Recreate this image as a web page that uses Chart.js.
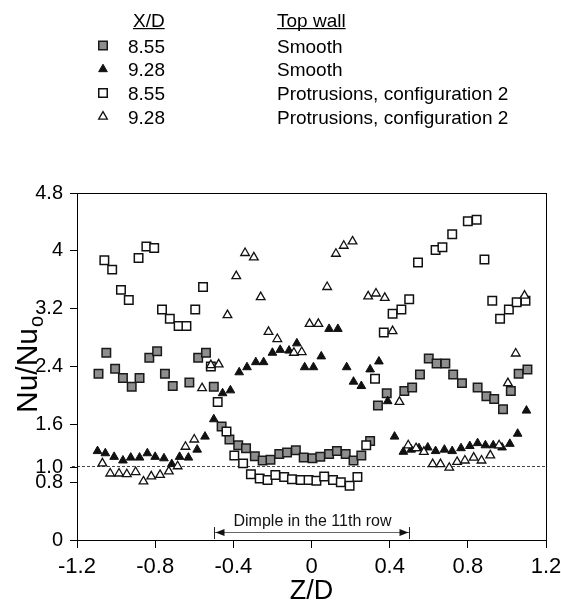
<!DOCTYPE html>
<html>
<head>
<meta charset="utf-8">
<script src="https://cdn.jsdelivr.net/npm/chart.js@4.4.1/dist/chart.umd.min.js"></script>
<style>
  html, body { margin: 0; padding: 0; background: #fff; }
  #wrap { width: 561px; height: 605px; }
</style>
</head>
<body>
<div id="wrap"><canvas id="nu" width="561" height="605"></canvas></div>
<script>
// X/D = 8.55, smooth top wall (grey squares)
const SMOOTH_855_Z = [
    -1.09, -1.05, -1.005, -0.965, -0.92, -0.88, -0.83, -0.79, -0.75, -0.71,
    -0.625, -0.58, -0.54, -0.50, -0.46, -0.42, -0.375, -0.335, -0.29, -0.25,
    -0.21, -0.165, -0.125, -0.08, -0.04, 0.005, 0.045, 0.09, 0.13, 0.175,
    0.215, 0.255, 0.30, 0.34, 0.385, 0.475, 0.515, 0.555, 0.60, 0.64,
    0.685, 0.725, 0.77, 0.85, 0.895, 0.935, 0.98, 1.02, 1.06, 1.105
];
const SMOOTH_855_NU = [
    2.30, 2.59, 2.37, 2.24, 2.12, 2.24, 2.52, 2.61, 2.30, 2.13,
    2.18, 2.52, 2.59, 2.12, 1.57, 1.39, 1.31, 1.27, 1.16, 1.10,
    1.11, 1.19, 1.21, 1.24, 1.14, 1.13, 1.15, 1.19, 1.23, 1.19,
    1.10, 1.17, 1.37, 1.86, 2.03, 2.06, 2.11, 2.29, 2.51, 2.44,
    2.44, 2.29, 2.17, 2.11, 1.99, 1.95, 1.81, 2.06, 2.30, 2.36
];

// X/D = 9.28, smooth top wall (black triangles)
const SMOOTH_928_Z = [
    -1.095, -1.055, -1.01, -0.965, -0.925, -0.88, -0.84, -0.80, -0.755, -0.715,
    -0.675, -0.63, -0.585, -0.545, -0.50, -0.455, -0.415, -0.37, -0.33, -0.285,
    -0.245, -0.20, -0.16, -0.115, -0.075, -0.035, 0.01, 0.05, 0.09, 0.135,
    0.18, 0.215, 0.255, 0.30, 0.345, 0.39, 0.425, 0.47, 0.51, 0.55,
    0.595, 0.635, 0.68, 0.72, 0.765, 0.81, 0.85, 0.89, 0.93, 0.975,
    1.015, 1.055, 1.10
];
const SMOOTH_928_NU = [
    1.23, 1.20, 1.15, 1.10, 1.14, 1.14, 1.20, 1.15, 1.13, 1.05,
    1.15, 1.14, 1.25, 1.43, 1.67, 2.03, 2.07, 2.32, 2.39, 2.46,
    2.46, 2.59, 2.63, 2.62, 2.72, 2.39, 2.39, 2.54, 2.92, 2.92,
    2.39, 2.19, 2.13, 2.36, 2.47, 1.92, 1.43, 1.22, 1.25, 1.27,
    1.28, 1.23, 1.25, 1.23, 1.27, 1.30, 1.34, 1.31, 1.31, 1.28,
    1.33, 1.47, 1.79
];

// X/D = 8.55, protrusions config 2 (open squares)
const PROT_855_Z = [
    -1.06, -1.02, -0.975, -0.935, -0.885, -0.845, -0.805, -0.765, -0.725, -0.68,
    -0.64, -0.595, -0.555, -0.515, -0.48, -0.435, -0.395, -0.35, -0.31, -0.265,
    -0.225, -0.185, -0.14, -0.10, -0.055, -0.015, 0.025, 0.065, 0.11, 0.15,
    0.195, 0.235, 0.28, 0.325, 0.37, 0.415, 0.46, 0.50, 0.545, 0.635,
    0.67, 0.72, 0.80, 0.845, 0.885, 0.925, 0.965, 1.01, 1.05, 1.095
];
const PROT_855_NU = [
    3.87, 3.74, 3.46, 3.32, 3.90, 4.06, 4.04, 3.19, 3.06, 2.96,
    2.96, 3.19, 3.50, 2.40, 1.91, 1.50, 1.17, 1.06, 0.91, 0.85,
    0.83, 0.90, 0.87, 0.84, 0.83, 0.83, 0.82, 0.88, 0.83, 0.80,
    0.75, 0.87, 1.31, 2.23, 2.87, 3.13, 3.19, 3.33, 3.84, 4.01,
    4.05, 4.23, 4.41, 4.43, 3.88, 3.31, 3.06, 3.19, 3.29, 3.31
];

// X/D = 9.28, protrusions config 2 (open triangles)
const PROT_928_Z = [
    -1.07, -1.03, -0.985, -0.945, -0.90, -0.86, -0.82, -0.775, -0.73, -0.685,
    -0.645, -0.60, -0.56, -0.515, -0.475, -0.43, -0.385, -0.34, -0.295, -0.26,
    -0.22, -0.175, -0.09, -0.05, -0.01, 0.035, 0.08, 0.125, 0.165, 0.21,
    0.29, 0.33, 0.375, 0.415, 0.45, 0.495, 0.535, 0.575, 0.62, 0.66,
    0.705, 0.745, 0.785, 0.83, 0.87, 0.915, 0.96, 1.005, 1.045, 1.09
];
const PROT_928_NU = [
    1.06, 0.92, 0.92, 0.91, 0.94, 0.81, 0.88, 0.90, 0.95, 1.02,
    1.29, 1.39, 2.10, 2.42, 2.43, 3.11, 3.65, 3.97, 3.91, 3.36,
    2.88, 2.78, 2.59, 2.60, 2.99, 2.99, 3.50, 3.96, 4.07, 4.13,
    3.37, 3.41, 3.35, 2.89, 1.91, 1.31, 1.27, 1.22, 1.05, 1.05,
    1.00, 1.08, 1.10, 1.14, 1.10, 1.17, 1.31, 2.17, 2.58, 3.38
];

// axes
const X_TICKS = [-1.2, -0.8, -0.4, 0, 0.4, 0.8, 1.2];
const X_TICK_LABELS = ['-1.2', '-0.8', '-0.4', '0', '0.4', '0.8', '1.2'];
const Y_TICKS = [0, 0.8, 1.0, 1.6, 2.4, 3.2, 4, 4.8];
const Y_TICK_LABELS = ['0', '0.8', '1.0', '1.6', '2.4', '3.2', '4', '4.8'];

// legend rows: X/D, top wall
const LEGEND_XD = ['8.55', '9.28', '8.55', '9.28'];
const LEGEND_WALL = ['Smooth', 'Smooth', 'Protrusions, configuration 2', 'Protrusions, configuration 2'];

const FONT = '"Liberation Sans", Arial, Helvetica, sans-serif';
const GREY = '#8e8e8e';

const pairs = (zs, nus) => zs.map((z, i) => ({ x: z, y: nus[i] }));

// box, Nu/Nu0 = 1 reference line, dimple arrow
const plotDecor = {
    id: 'plotDecor',
    beforeDatasetsDraw(chart) {
        const { ctx, chartArea: a, scales: { x, y } } = chart;
        const yy = Math.round(y.getPixelForValue(1.0)) - 1.5;
        ctx.save();
        ctx.strokeStyle = '#444';
        ctx.lineWidth = 1;
        ctx.setLineDash([3, 2]);
        ctx.beginPath();
        ctx.moveTo(a.left - 5, yy);
        ctx.lineTo(a.right, yy);
        ctx.stroke();
        ctx.restore();
    },
    afterDatasetsDraw(chart) {
        const { ctx, chartArea: a, scales: { x, y } } = chart;
        ctx.save();
        ctx.strokeStyle = '#000';
        ctx.lineWidth = 1;
        ctx.strokeRect(Math.round(a.left) + 0.5, Math.round(a.top) + 0.5,
            Math.round(a.right - a.left), Math.round(a.bottom - a.top));

        // dimple in the 11th row, Z/D -0.5 .. 0.5
        const x0 = Math.round(x.getPixelForValue(-0.5)) + 0.5;
        const x1 = Math.round(x.getPixelForValue(0.5)) + 0.5;
        const ly = Math.round(a.bottom) - 7.5;
        ctx.strokeStyle = '#666';
        ctx.beginPath();
        ctx.moveTo(x0, ly); ctx.lineTo(x1, ly);
        ctx.stroke();
        ctx.strokeStyle = '#222';
        ctx.beginPath();
        ctx.moveTo(x0, a.bottom - 13); ctx.lineTo(x0, a.bottom - 1);
        ctx.moveTo(x1, a.bottom - 13); ctx.lineTo(x1, a.bottom - 1);
        ctx.stroke();
        ctx.fillStyle = '#111';
        ctx.beginPath();
        ctx.moveTo(x0 + 1, ly); ctx.lineTo(x0 + 10, ly - 3.5); ctx.lineTo(x0 + 10, ly + 3.5);
        ctx.closePath(); ctx.fill();
        ctx.beginPath();
        ctx.moveTo(x1 - 1, ly); ctx.lineTo(x1 - 10, ly - 3.5); ctx.lineTo(x1 - 10, ly + 3.5);
        ctx.closePath(); ctx.fill();

        ctx.font = '16px ' + FONT;
        ctx.textAlign = 'center';
        ctx.textBaseline = 'alphabetic';
        ctx.fillText('Dimple in the 11th row', x.getPixelForValue(0) + 1, a.bottom - 14);
        ctx.restore();
    }
};

// Nu/Nu_o title and the table legend
const titleAndLegend = {
    id: 'titleAndLegend',
    afterDraw(chart) {
        const { ctx } = chart;
        ctx.save();
        ctx.fillStyle = '#000';

        // y title, rotated, subscript o
        ctx.translate(37, 413);
        ctx.rotate(-Math.PI / 2);
        ctx.textAlign = 'left';
        ctx.textBaseline = 'alphabetic';
        ctx.font = '30px ' + FONT;
        const main = 'Nu/Nu';
        ctx.fillText(main, 0, 0);
        const w = ctx.measureText(main).width;
        ctx.font = '20px ' + FONT;
        ctx.fillText('o', w + 1, 6);
        ctx.setTransform(1, 0, 0, 1, 0, 0);

        // legend
        ctx.font = '19px ' + FONT;
        ctx.textAlign = 'left';
        ctx.fillText('X/D', 133, 27);
        ctx.fillText('Top wall', 277, 27);
        ctx.fillRect(133, 28, ctx.measureText('X/D').width, 1.2);
        ctx.fillRect(277, 28, ctx.measureText('Top wall').width, 1.2);
        const metas = chart.getSortedVisibleDatasetMetas().slice().sort((p, q) => p.index - q.index);
        metas.forEach((meta, i) => {
            const ds = chart.data.datasets[meta.index];
            const base = 52.5 + i * 23.7;
            ctx.fillStyle = '#000';
            ctx.fillText(LEGEND_XD[i], 128, base);
            ctx.fillText(LEGEND_WALL[i], 277, base);
            ctx.fillStyle = ds.backgroundColor;
            ctx.strokeStyle = ds.borderColor;
            ctx.lineWidth = ds.borderWidth;
            Chart.helpers.drawPoint(ctx, {
                pointStyle: ds.pointStyle, radius: ds.pointRadius,
                borderWidth: ds.borderWidth, rotation: 0
            }, 103, base - 7);
        });
        ctx.restore();
    }
};

window.onload = () => {
    new Chart(document.getElementById('nu'), {
        type: 'scatter',
        data: {
            datasets: [
                {
                    label: '8.55 Smooth',
                    data: pairs(SMOOTH_855_Z, SMOOTH_855_NU),
                    pointStyle: 'rect', pointRadius: 6,
                    backgroundColor: GREY, borderColor: '#1a1a1a', borderWidth: 1.5,
                    order: 4
                },
                {
                    label: '9.28 Smooth',
                    data: pairs(SMOOTH_928_Z, SMOOTH_928_NU),
                    pointStyle: 'triangle', pointRadius: 5,
                    backgroundColor: '#111', borderColor: '#111', borderWidth: 1,
                    order: 3
                },
                {
                    label: '8.55 Protrusions, configuration 2',
                    data: pairs(PROT_855_Z, PROT_855_NU),
                    pointStyle: 'rect', pointRadius: 6,
                    backgroundColor: '#fff', borderColor: '#111', borderWidth: 1.5,
                    order: 2
                },
                {
                    label: '9.28 Protrusions, configuration 2',
                    data: pairs(PROT_928_Z, PROT_928_NU),
                    pointStyle: 'triangle', pointRadius: 5,
                    backgroundColor: '#fff', borderColor: '#111', borderWidth: 1.3,
                    order: 1
                }
            ]
        },
        options: {
            responsive: false,
            animation: false,
            layout: { padding: { top: 193, right: 15, bottom: 0, left: 0 } },
            plugins: {
                legend: { display: false },
                tooltip: { enabled: false }
            },
            elements: { point: { hoverRadius: 6 } },
            scales: {
                x: {
                    type: 'linear',
                    min: -1.2, max: 1.2,
                    afterBuildTicks: s => { s.ticks = X_TICKS.map(v => ({ value: v })); },
                    afterFit: s => { s.height = 65; s.paddingLeft = 0; s.paddingRight = 0; },
                    ticks: {
                        autoSkip: false, maxRotation: 0, padding: 6, color: '#000',
                        font: { family: FONT, size: 22 },
                        callback: (v, i) => X_TICK_LABELS[i]
                    },
                    grid: { drawOnChartArea: false, drawTicks: true, tickLength: 8, color: '#000' },
                    border: { display: true, color: '#000', width: 1 },
                    title: {
                        display: true, text: 'Z/D', color: '#000',
                        font: { family: FONT, size: 27, lineHeight: 1 },
                        padding: { top: 0, bottom: 0 }
                    }
                },
                y: {
                    type: 'linear',
                    min: 0, max: 4.8,
                    afterBuildTicks: s => { s.ticks = Y_TICKS.map(v => ({ value: v })); },
                    afterFit: s => { s.width = 77; s.paddingTop = 0; s.paddingBottom = 0; },
                    ticks: {
                        autoSkip: false, padding: 7, color: '#000',
                        font: { family: FONT, size: 20 },
                        callback: (v, i) => Y_TICK_LABELS[i]
                    },
                    grid: { drawOnChartArea: false, drawTicks: true, tickLength: 7, color: '#000' },
                    border: { display: true, color: '#000', width: 1 }
                }
            }
        },
        plugins: [plotDecor, titleAndLegend]
    });
};
</script>
</body>
</html>
